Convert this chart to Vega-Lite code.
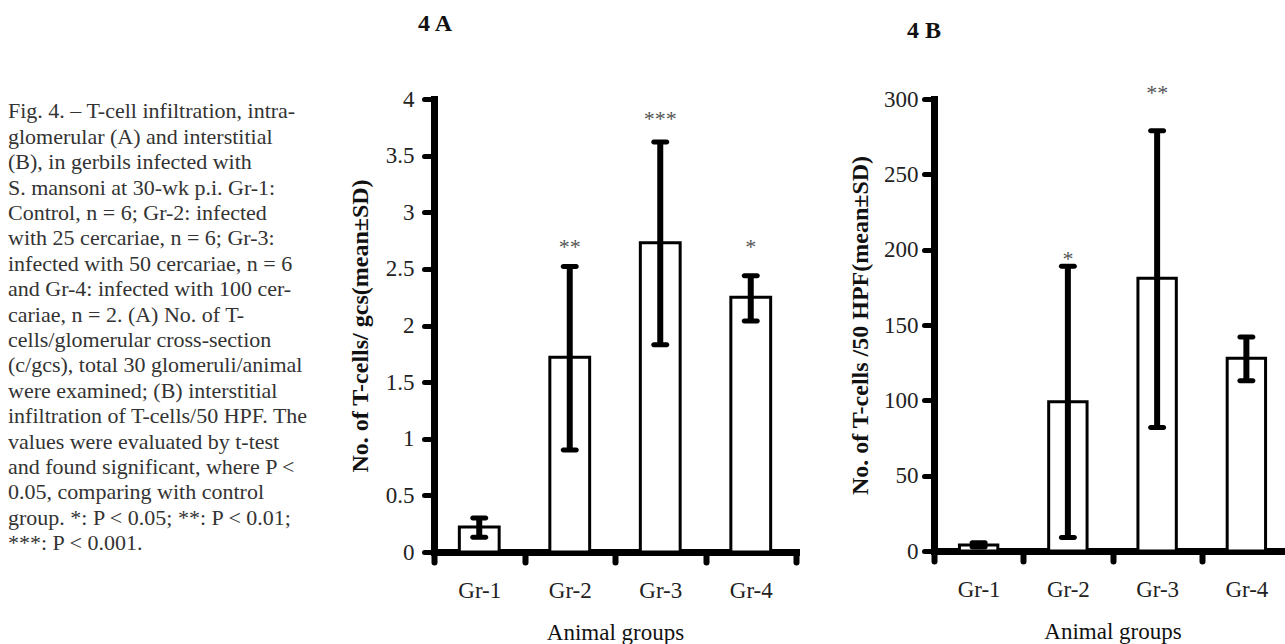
{
  "$schema": "https://vega.github.io/schema/vega-lite/v6.json",
  "background": "white",
  "padding": {"left": 8, "top": 12, "right": 0, "bottom": 0},
  "bounds": "flush",
  "spacing": 138,
  "config": {
    "view": {"stroke": null},
    "font": "Liberation Serif",
    "axis": {
      "grid": false,
      "domainColor": "black",
      "domainWidth": 7,
      "domainCap": "square",
      "tickColor": "black",
      "tickWidth": 5,
      "tickSize": 10,
      "tickCap": "round",
      "labelFont": "Liberation Serif",
      "labelFontSize": 23,
      "labelColor": "#222",
      "titleFont": "Liberation Serif",
      "titleColor": "#111"
    }
  },
  "datasets": {
    "caption": [
      {"line": 0, "text": "Fig. 4. – T-cell infiltration, intra-"},
      {"line": 1, "text": "glomerular (A) and interstitial"},
      {"line": 2, "text": "(B), in gerbils infected with"},
      {"line": 3, "text": "S. mansoni at 30-wk p.i. Gr-1:"},
      {"line": 4, "text": "Control, n = 6; Gr-2: infected"},
      {"line": 5, "text": "with 25 cercariae, n = 6; Gr-3:"},
      {"line": 6, "text": "infected with 50 cercariae, n = 6"},
      {"line": 7, "text": "and Gr-4: infected with 100 cer-"},
      {"line": 8, "text": "cariae, n = 2. (A) No. of T-"},
      {"line": 9, "text": "cells/glomerular cross-section"},
      {"line": 10, "text": "(c/gcs), total 30 glomeruli/animal"},
      {"line": 11, "text": "were examined; (B) interstitial"},
      {"line": 12, "text": "infiltration of T-cells/50 HPF. The"},
      {"line": 13, "text": "values were evaluated by t-test"},
      {"line": 14, "text": "and found significant, where P <"},
      {"line": 15, "text": "0.05, comparing with control"},
      {"line": 16, "text": "group. *: P < 0.05; **: P < 0.01;"},
      {"line": 17, "text": "***: P < 0.001."}
    ],
    "A": [
      {"group": "Gr-1", "mean": 0.22, "lo": 0.13, "hi": 0.30, "star": "", "star_y": null},
      {"group": "Gr-2", "mean": 1.72, "lo": 0.90, "hi": 2.52, "star": "**", "star_y": 2.74},
      {"group": "Gr-3", "mean": 2.73, "lo": 1.83, "hi": 3.62, "star": "***", "star_y": 3.87},
      {"group": "Gr-4", "mean": 2.25, "lo": 2.04, "hi": 2.44, "star": "*", "star_y": 2.74}
    ],
    "B": [
      {"group": "Gr-1", "mean": 4, "lo": 2.7, "hi": 5.5, "star": "", "star_y": null},
      {"group": "Gr-2", "mean": 99, "lo": 9, "hi": 189, "star": "*", "star_y": 197},
      {"group": "Gr-3", "mean": 181, "lo": 82, "hi": 279, "star": "**", "star_y": 307},
      {"group": "Gr-4", "mean": 128, "lo": 113, "hi": 142, "star": "", "star_y": null}
    ]
  },
  "hconcat": [
    {
      "width": 288,
      "height": 453,
      "data": {"name": "caption"},
      "mark": {"type": "text", "align": "left", "baseline": "middle", "fontSize": 22, "font": "Liberation Serif", "color": "#333"},
      "encoding": {
        "x": {"datum": 0, "type": "quantitative", "scale": {"domain": [0, 1]}, "axis": null},
        "y": {"field": "line", "type": "quantitative", "scale": {"domain": [-0.492, 17.343], "reverse": true, "nice": false, "zero": false}, "axis": null},
        "text": {"field": "text"}
      }
    },
    {
      "width": 362,
      "height": 453,
      "title": {"text": "4 A", "anchor": "start", "frame": "group", "dx": -16, "offset": 33, "baseline": "alphabetic", "font": "Liberation Serif", "fontSize": 24, "fontWeight": "bold", "color": "#111"},
      "data": {"name": "A"},
      "encoding": {
        "x": {
          "field": "group", "type": "nominal", "sort": null,
          "scale": {"paddingInner": 0, "paddingOuter": 0},
          "axis": {"title": "Animal groups", "labelAngle": 0, "tickBand": "extent", "tickWidth": 6, "labelPadding": 17, "titleFontSize": 23, "titleFontWeight": "normal", "titlePadding": 19}
        }
      },
      "layer": [
        {
          "mark": {"type": "bar", "width": {"band": 0.44}, "fill": "white", "stroke": "black", "strokeWidth": 3},
          "encoding": {
            "y": {"field": "mean", "type": "quantitative", "scale": {"domain": [0, 4], "nice": false},
              "axis": {"title": "No. of T-cells/ gcs(mean±SD)", "values": [0, 0.5, 1, 1.5, 2, 2.5, 3, 3.5, 4], "format": "~g", "labelPadding": 10, "titlePadding": 13, "titleFontSize": 24, "titleFontWeight": "bold"}}
          }
        },
        {
          "mark": {"type": "rule", "strokeWidth": 6, "color": "black"},
          "encoding": {
            "y": {"field": "lo", "type": "quantitative", "title": "No. of T-cells/ gcs(mean±SD)"},
            "y2": {"field": "hi"}
          }
        },
        {
          "mark": {"type": "tick", "orient": "horizontal", "size": 18, "thickness": 5, "cornerRadius": 2.5, "color": "black", "opacity": 1},
          "encoding": {"y": {"field": "lo", "type": "quantitative", "title": "No. of T-cells/ gcs(mean±SD)"}}
        },
        {
          "mark": {"type": "tick", "orient": "horizontal", "size": 18, "thickness": 5, "cornerRadius": 2.5, "color": "black", "opacity": 1},
          "encoding": {"y": {"field": "hi", "type": "quantitative", "title": "No. of T-cells/ gcs(mean±SD)"}}
        },
        {
          "transform": [{"filter": "datum.star != ''"}],
          "mark": {"type": "text", "fontSize": 22, "color": "#555", "baseline": "middle", "dy": 5},
          "encoding": {
            "y": {"field": "star_y", "type": "quantitative", "title": "No. of T-cells/ gcs(mean±SD)"},
            "text": {"field": "star"}
          }
        }
      ]
    },
    {
      "width": 357,
      "height": 452,
      "title": {"text": "4 B", "anchor": "start", "frame": "group", "dx": -27, "offset": 20, "baseline": "alphabetic", "font": "Liberation Serif", "fontSize": 24, "fontWeight": "bold", "color": "#111"},
      "data": {"name": "B"},
      "encoding": {
        "x": {
          "field": "group", "type": "nominal", "sort": null,
          "scale": {"paddingInner": 0, "paddingOuter": 0},
          "axis": {"title": "Animal groups", "labelAngle": 0, "tickBand": "extent", "tickWidth": 6, "labelPadding": 17, "titleFontSize": 23, "titleFontWeight": "normal", "titlePadding": 19}
        }
      },
      "layer": [
        {
          "mark": {"type": "bar", "width": {"band": 0.43}, "fill": "white", "stroke": "black", "strokeWidth": 3},
          "encoding": {
            "y": {"field": "mean", "type": "quantitative", "scale": {"domain": [0, 300], "nice": false},
              "axis": {"title": "No. of T-cells /50 HPF(mean±SD)", "values": [0, 50, 100, 150, 200, 250, 300], "labelPadding": 6, "titlePadding": 11, "titleFontSize": 24, "titleFontWeight": "bold"}}
          }
        },
        {
          "mark": {"type": "rule", "strokeWidth": 6, "color": "black"},
          "encoding": {
            "y": {"field": "lo", "type": "quantitative", "title": "No. of T-cells /50 HPF(mean±SD)"},
            "y2": {"field": "hi"}
          }
        },
        {
          "mark": {"type": "tick", "orient": "horizontal", "size": 18, "thickness": 5, "cornerRadius": 2.5, "color": "black", "opacity": 1},
          "encoding": {"y": {"field": "lo", "type": "quantitative", "title": "No. of T-cells /50 HPF(mean±SD)"}}
        },
        {
          "mark": {"type": "tick", "orient": "horizontal", "size": 18, "thickness": 5, "cornerRadius": 2.5, "color": "black", "opacity": 1},
          "encoding": {"y": {"field": "hi", "type": "quantitative", "title": "No. of T-cells /50 HPF(mean±SD)"}}
        },
        {
          "transform": [{"filter": "datum.star != ''"}],
          "mark": {"type": "text", "fontSize": 22, "color": "#555", "baseline": "middle", "dy": 5},
          "encoding": {
            "y": {"field": "star_y", "type": "quantitative", "title": "No. of T-cells /50 HPF(mean±SD)"},
            "text": {"field": "star"}
          }
        }
      ]
    }
  ]
}
